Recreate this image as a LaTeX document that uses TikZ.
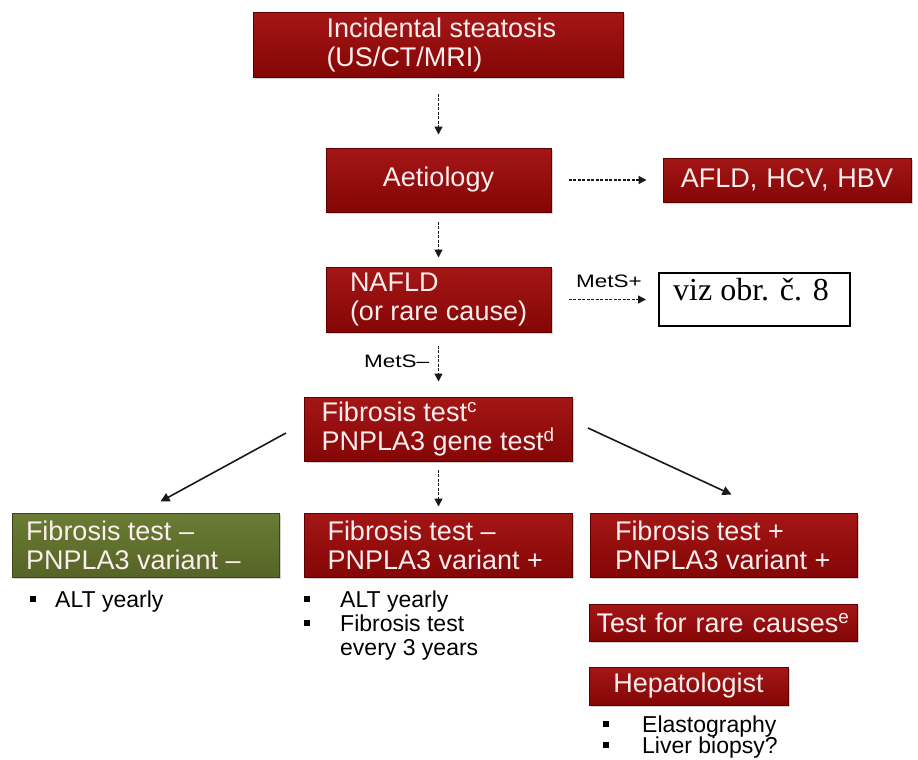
\documentclass[tikz,border=0pt]{standalone}
\usepackage{fontspec}
\usepackage{graphicx}
\setmainfont{Liberation Sans}
\newfontfamily\vizserif{Liberation Serif}
\usetikzlibrary{arrows.meta,shadows,calc}

\definecolor{boxredtop}{RGB}{165,22,22}
\definecolor{boxredbot}{RGB}{132,6,6}
\definecolor{boxredline}{RGB}{95,0,0}
\definecolor{boxgreentop}{RGB}{106,124,52}
\definecolor{boxgreenbot}{RGB}{86,100,38}
\definecolor{boxgreenline}{RGB}{58,70,24}
\definecolor{boxtext}{RGB}{252,238,238}
\definecolor{arrowgray}{RGB}{25,25,25}

\newcommand\lbxt[3]{\hspace*{#1pt}\parbox{#2pt}{\raggedright #3}}

\tikzset{
  redbox/.style={draw=boxredline, line width=1pt, top color=boxredtop, bottom color=boxredbot,
    text=boxtext, font=\fontsize{27}{29}\selectfont, inner sep=0pt,
    drop shadow={shadow xshift=1.5pt, shadow yshift=-1.5pt, opacity=0.35}},
  greenbox/.style={redbox, draw=boxgreenline, top color=boxgreentop, bottom color=boxgreenbot},
  ctext/.style={align=center},
  vizbox/.style={draw=black, line width=2pt, fill=white, inner sep=0pt},
  viztext/.style={font=\vizserif\fontsize{32}{34}\selectfont, inner sep=0pt},
  bultext/.style={font=\fontsize{23}{24}\selectfont, inner sep=0pt, text=black},
  sqbullet/.style={fill=black, minimum size=6pt, inner sep=0pt},
  metslabel/.style={font=\fontsize{18}{20}\selectfont, inner sep=0pt},
  darr/.style={draw=arrowgray, line width=1.3pt, dash pattern=on 3pt off 1.5pt,
    -{Triangle[length=8pt,width=8pt]}},
  sarr/.style={draw=arrowgray, line width=1.6pt, -{Triangle[length=9pt,width=9pt]}}
}

\begin{document}
\begin{tikzpicture}[x=1pt,y=-1pt]
\fill[white] (0,0) rectangle (918,760);
\useasboundingbox (0,0) rectangle (918,760);

% boxes
\node[redbox, minimum width=370pt, minimum height=64pt] (inc) at (438.5,45)
  {\lbxt{73}{297}{Incidental steatosis\\(US/CT/MRI)}};
\node[redbox, ctext, text width=225pt, minimum height=64pt] (aet) at (438.5,180) {Aetiology};
\node[redbox, ctext, text width=248pt, minimum height=44pt] (afld) at (787,180) {AFLD, HCV, HBV};
\node[redbox, minimum width=225pt, minimum height=65pt] (nafld) at (438.5,299.5)
  {\lbxt{24}{201}{NAFLD\\(or rare cause)}};
\node[vizbox, minimum width=191pt, minimum height=53pt] (viz) at (754.5,299.5) {};
\node[viztext, anchor=base] (viztxt) at (751,300) {viz obr. č. 8};
\node[redbox, minimum width=268pt, minimum height=64pt] (fib) at (438.5,429)
  {\lbxt{17}{251}{Fibrosis test\textsuperscript{c}\\PNPLA3 gene test\textsuperscript{d}}};
\node[greenbox, minimum width=267pt, minimum height=64pt] (green) at (145.5,545)
  {\lbxt{14}{253}{Fibrosis test –\\PNPLA3 variant –}};
\node[redbox, minimum width=268pt, minimum height=64pt] (mid) at (438.5,545)
  {\lbxt{23}{245}{Fibrosis test –\\PNPLA3 variant +}};
\node[redbox, minimum width=267pt, minimum height=64pt] (right) at (723.5,545)
  {\lbxt{25}{242}{Fibrosis test +\\PNPLA3 variant +}};
\node[redbox, ctext, text width=268pt, minimum height=37pt] (rare) at (723,622.5)
  {Test for rare causes\textsuperscript{e}};
\node[redbox, ctext, text width=199pt, minimum height=38pt] (hep) at (688.5,686) {Hepatologist};

% labels
\node[metslabel, anchor=base west] (metsp) at (576,287) {\scalebox{1.25}[1]{MetS+}};
\node[metslabel, anchor=base west] (metsm) at (364,367) {\scalebox{1.25}[1]{MetS–}};

% bullets
\node[sqbullet] (bl1) at (33,599) {};
\node[bultext, anchor=base west] (tl1) at (55,607) {ALT yearly};
\node[sqbullet] (bm1) at (307,599) {};
\node[bultext, anchor=base west] (tm1) at (340,607) {ALT yearly};
\node[sqbullet] (bm2) at (307,623) {};
\node[bultext, anchor=base west] (tm2) at (340,631) {Fibrosis test};
\node[bultext, anchor=base west] (tm3) at (340,655) {every 3 years};
\node[sqbullet] (br1) at (606,724) {};
\node[bultext, anchor=base west] (tr1) at (642,732) {Elastography};
\node[sqbullet] (br2) at (606,745) {};
\node[bultext, anchor=base west] (tr2) at (642,753) {Liver biopsy?};

% connectors
\draw[darr, shorten <=16pt, shorten >=13pt] (inc) -- (aet);
\draw[darr, shorten <=9pt, shorten >=9pt] (aet) -- (nafld);
\draw[darr, shorten <=17pt, shorten >=16pt] (aet) -- (afld);
\draw[darr, shorten <=17pt, shorten >=12pt] (nafld) -- (viz);
\draw[darr, shorten <=13pt, shorten >=15pt] (nafld) -- (fib);
\draw[darr, shorten <=8pt, shorten >=6pt] (fib) -- (mid);
\draw[sarr] ($(fib.west)+(-18,4)$) -- ($(green.north)+(15,-11)$);
\draw[sarr] ($(fib.east)+(15,-1)$) -- ($(right.north)+(8,-18)$);
\end{tikzpicture}
\end{document}
